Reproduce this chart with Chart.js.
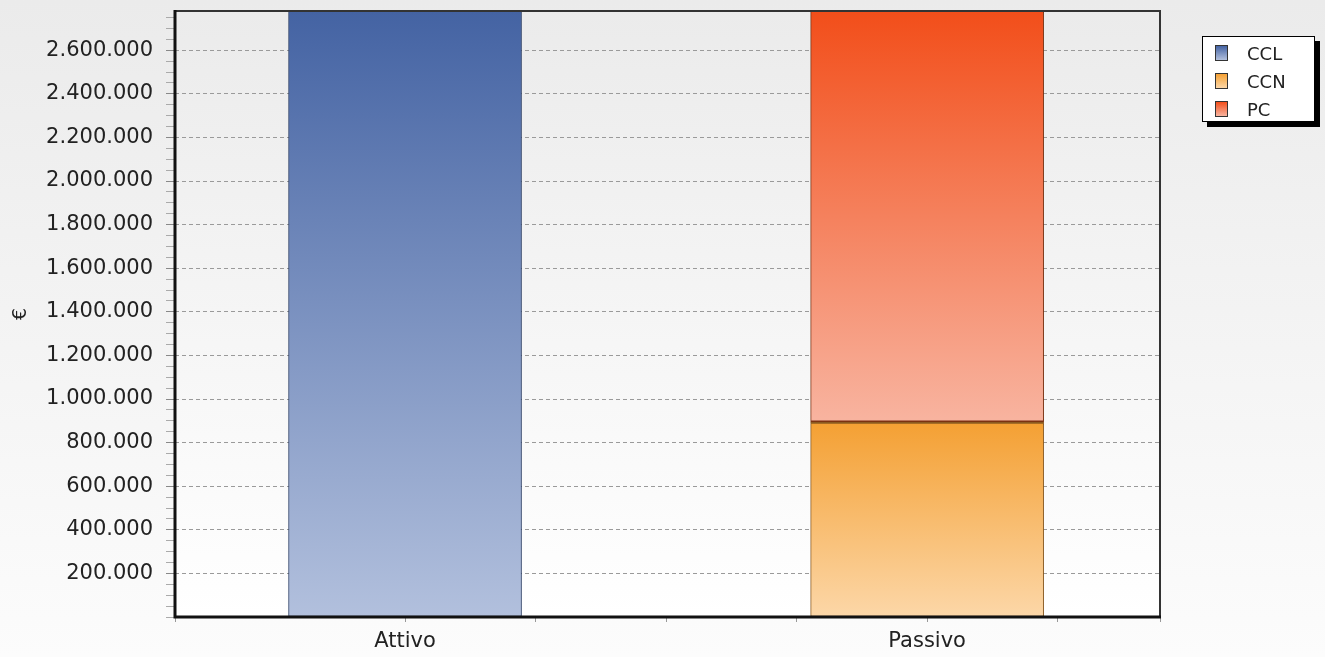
<!DOCTYPE html>
<html>
<head>
<meta charset="utf-8">
<script src="https://cdn.jsdelivr.net/npm/chart.js@4"></script>
<style>
  html, body { margin: 0; padding: 0; }
  body { background: linear-gradient(#ebebeb, #fcfcfc); width: 1325px; height: 657px; overflow: hidden; }
  #wrap { position: relative; width: 1325px; height: 657px; }
  #legend {
    position: absolute; left: 1202px; top: 36px; width: 113px; height: 86px;
    background: #fff; border: 1px solid #000; box-shadow: 5px 5px 0 #000;
    font-family: "DejaVu Sans", sans-serif; font-size: 18px; color: #222;
    box-sizing: border-box; padding-top: 2px;
  }
  #legend .item { display: flex; align-items: center; height: 28px; padding-left: 12px; }
  #legend .sw { width: 13px; height: 16px; border: 1px solid #333; margin-right: 19px; box-sizing: border-box; }
</style>
</head>
<body>
<div id="wrap">
  <canvas id="chart"></canvas>
  <div id="legend"></div>
</div>
<script>
// data
const categories = ['Attivo', 'Passivo'];
const seriesNames = ['CCL', 'CCN', 'PC'];
const cclValues = [2780000, null];
const ccnValues = [null, 894000];
const pcValues = [null, 1886000];

// y axis: labelled every 200.000, small ticks every 50.000
const yMax = 2780000;
const yMajorStep = 200000;
const yMinorStep = 50000;

// gradient colours (top, bottom) and border per series
const palette = {
    CCL: { top: '#4463a3', bottom: '#b2c0dd', border: '#2c3f66' },
    CCN: { top: '#f4a033', bottom: '#fcd7a8', border: '#8a5a20' },
    PC:  { top: '#f24e1a', bottom: '#f8b4a0', border: '#7a3010' }
};

function thousands(v) {
    return String(Math.round(v)).replace(/\B(?=(\d{3})+(?!\d))/g, '.');
}

function isMajor(v) {
    return v > 0 && v % yMajorStep === 0;
}

function barFill(name) {
    return function(c) {
        const p = palette[name];
        if (c.type !== 'data' || !c.chart.chartArea) return p.top;
        const chart = c.chart;
        const i = c.dataIndex;
        let base = 0;
        for (let d = 0; d < c.datasetIndex; d++) {
            const pt = chart.data.datasets[d].data[i];
            if (pt && pt.y) base += pt.y;
        }
        const val = c.raw && c.raw.y ? c.raw.y : 0;
        const y = chart.scales.y;
        const g = chart.ctx.createLinearGradient(0, y.getPixelForValue(base + val), 0, y.getPixelForValue(base));
        g.addColorStop(0, p.top);
        g.addColorStop(1, p.bottom);
        return g;
    };
}

const values = [cclValues, ccnValues, pcValues];
const datasets = seriesNames.map((name, k) => ({
    label: name,
    data: values[k].map((v, i) => ({ x: i, y: v })),
    backgroundColor: barFill(name),
    borderColor: palette[name].border,
    borderWidth: name === 'CCN' ? { top: 2, left: 1, right: 1, bottom: 1 } : (name === 'PC' ? { top: 1, left: 1, right: 1, bottom: 2 } : 1),
    borderSkipped: false,
    barThickness: 233
}));

// plot background + frame
const framePlugin = {
    id: 'frame',
    beforeDraw(chart) {
        const { ctx, chartArea: a } = chart;
        const g = ctx.createLinearGradient(0, a.top, 0, a.bottom);
        g.addColorStop(0, '#ebebeb');
        g.addColorStop(1, '#ffffff');
        ctx.save();
        ctx.fillStyle = g;
        ctx.fillRect(a.left, a.top, a.right - a.left, a.bottom - a.top);
        ctx.restore();
    },
    afterDatasetsDraw(chart) {
        const { ctx, chartArea: a } = chart;
        ctx.save();
        ctx.strokeStyle = '#333';
        ctx.lineWidth = 2;
        ctx.beginPath();
        ctx.moveTo(a.left, a.top);
        ctx.lineTo(a.right, a.top);
        ctx.lineTo(a.right, a.bottom);
        ctx.stroke();
        ctx.strokeStyle = '#111';
        ctx.lineWidth = 3;
        ctx.beginPath();
        ctx.moveTo(a.left, a.top - 1);
        ctx.lineTo(a.left, a.bottom);
        ctx.lineTo(a.right + 1, a.bottom);
        ctx.stroke();
        ctx.restore();
    }
};

const chart = new Chart(document.getElementById('chart'), {
    type: 'bar',
    data: { datasets: datasets },
    plugins: [framePlugin],
    options: {
        responsive: true,
        maintainAspectRatio: false,
        animation: false,
        layout: { padding: { left: 0, top: 11, right: 165, bottom: 0 } },
        plugins: { legend: { display: false }, tooltip: { enabled: false } },
        scales: {
            x: {
                type: 'linear',
                stacked: true,
                offset: false,
                min: -0.4406,
                max: 1.446,
                afterFit: s => { s.height = 40; s.paddingLeft = 0; s.paddingRight = 0; },
                ticks: {
                    stepSize: 0.25,
                    padding: 7,
                    color: '#222',
                    font: { family: 'DejaVu Sans', size: 21 },
                    callback: v => (Math.abs(v - Math.round(v)) < 1e-6 && categories[Math.round(v)] !== undefined ? categories[Math.round(v)] : '')
                },
                grid: { drawOnChartArea: false, offset: false, tickLength: 5, tickColor: '#999' },
                border: { display: false }
            },
            y: {
                stacked: true,
                min: 0,
                max: yMax,
                afterBuildTicks: s => {
                    const t = [];
                    for (let v = 0; v <= yMax; v += yMinorStep) t.push({ value: v });
                    s.ticks = t;
                },
                afterFit: s => { s.width = 175; s.paddingTop = 0; s.paddingBottom = 0; },
                title: {
                    display: true,
                    text: '€',
                    color: '#222',
                    font: { family: 'DejaVu Sans', size: 19 },
                    padding: { top: 10, bottom: 0 }
                },
                ticks: {
                    autoSkip: false,
                    padding: 13,
                    color: '#222',
                    font: { family: 'DejaVu Sans', size: 21 },
                    callback: v => (isMajor(v) ? thousands(v) : '')
                },
                grid: {
                    color: c => (c.tick && isMajor(c.tick.value) ? '#9a9a9a' : 'rgba(0,0,0,0)'),
                    tickColor: c => (c.tick && isMajor(c.tick.value) ? '#888' : '#aaa'),
                    tickLength: 9
                },
                border: { display: false, dash: [4, 3] }
            }
        }
    }
});

// legend as html, built from the datasets
const legendEl = document.getElementById('legend');
chart.data.datasets.forEach(ds => {
    const p = palette[ds.label];
    const item = document.createElement('div');
    item.className = 'item';
    const sw = document.createElement('span');
    sw.className = 'sw';
    sw.style.background = 'linear-gradient(' + p.top + ', ' + p.bottom + ')';
    const txt = document.createElement('span');
    txt.textContent = ds.label;
    item.appendChild(sw);
    item.appendChild(txt);
    legendEl.appendChild(item);
});
</script>
</body>
</html>
